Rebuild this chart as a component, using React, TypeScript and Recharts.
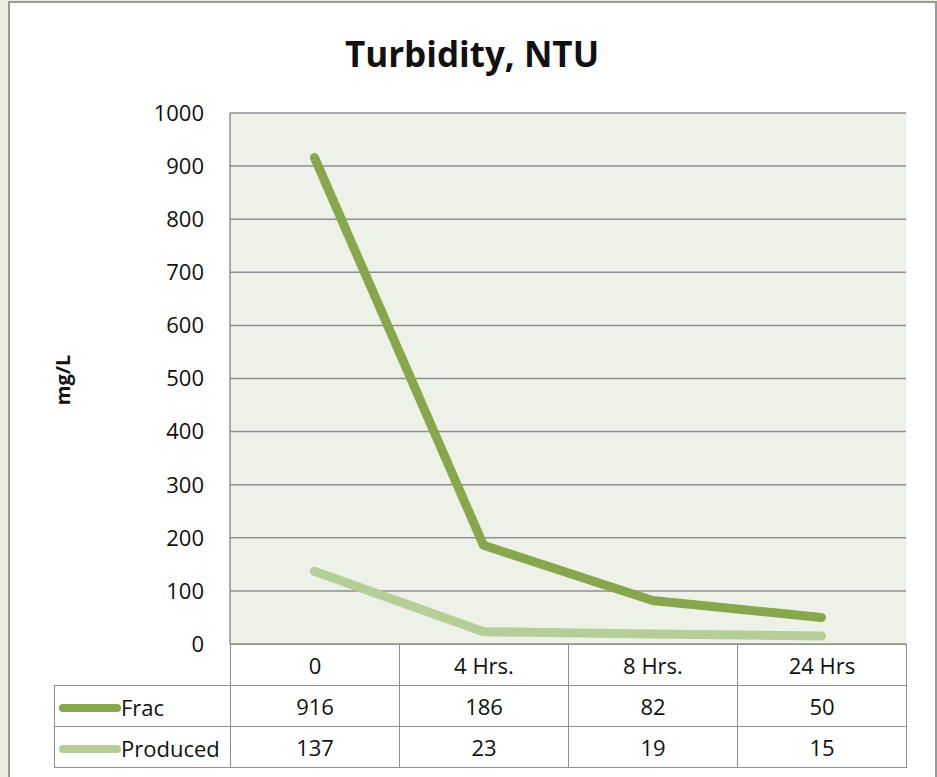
import { CartesianGrid, Line, LineChart, XAxis, YAxis } from "recharts";

const categories = ["0", "4 Hrs.", "8 Hrs.", "24 Hrs"];
const fracValues = [916, 186, 82, 50];
const producedValues = [137, 23, 19, 15];
const yTicks = [0, 100, 200, 300, 400, 500, 600, 700, 800, 900, 1000];

const series = [
  { key: "frac", name: "Frac", color: "#86A74B", values: fracValues },
  { key: "produced", name: "Produced", color: "#B5CD96", values: producedValues },
];

const FONT = "'Open Sans', sans-serif";
const GRID = "#8f8f8f";

// plot box in page pixels
const PLOT_LEFT = 230;
const PLOT_RIGHT = 906;
const PLOT_TOP = 113;
const PLOT_BOTTOM = 644;
const COL_W = (PLOT_RIGHT - PLOT_LEFT) / categories.length;

export default function App() {
  const rows = categories.map((c, i) => ({
    cat: c,
    frac: fracValues[i],
    produced: producedValues[i],
  }));

  const cell: React.CSSProperties = {
    border: `1.5px solid ${GRID}`,
    textAlign: "center",
    padding: 0,
    fontSize: 22,
    color: "#111",
  };

  return (
    <div
      style={{
        position: "fixed",
        left: 0,
        top: 0,
        width: 937,
        height: 777,
        background: "#EEEBE1",
        fontFamily: FONT,
        overflow: "hidden",
      }}
    >
      <div
        style={{
          position: "absolute",
          left: 8,
          top: 1,
          width: 925,
          height: 800,
          background: "#fff",
          border: "2px solid #9a9a9a",
        }}
      />
      <div
        style={{
          position: "absolute",
          left: 0,
          top: 30,
          width: 944,
          textAlign: "center",
          fontWeight: 700,
          fontSize: 35,
          color: "#111",
        }}
      >
        Turbidity, NTU
      </div>
      <div
        style={{
          position: "absolute",
          left: 62,
          top: 380,
          transform: "translate(-50%, -50%) rotate(-90deg)",
          fontWeight: 700,
          fontSize: 20,
          color: "#111",
          whiteSpace: "nowrap",
        }}
      >
        mg/L
      </div>

      <div style={{ position: "absolute", left: 0, top: 0 }}>
        <LineChart
          width={937}
          height={777}
          data={rows}
          margin={{ top: PLOT_TOP, right: 937 - PLOT_RIGHT, bottom: 777 - PLOT_BOTTOM, left: 0 }}
        >
          <CartesianGrid
            vertical={false}
            horizontal
            stroke={GRID}
            strokeWidth={1.5}
            fill="#EEF1E8"
            fillOpacity={1}
            horizontalValues={yTicks}
          />
          <XAxis
            dataKey="cat"
            hide
            padding={{ left: COL_W / 2, right: COL_W / 2 }}
          />
          <YAxis
            width={PLOT_LEFT}
            domain={[0, 1000]}
            ticks={yTicks}
            interval={0}
            tickSize={0}
            tickMargin={26}
            tick={{ fill: "#111", fontSize: 22, fontFamily: FONT }}
            axisLine={{ stroke: GRID, strokeWidth: 1.5 }}
            tickLine={false}
          />
          {series.map((s) => (
            <Line
              key={s.key}
              type="linear"
              dataKey={s.key}
              name={s.name}
              stroke={s.color}
              strokeWidth={9}
              strokeLinecap="round"
              strokeLinejoin="round"
              dot={false}
              activeDot={false}
              isAnimationActive={false}
            />
          ))}
        </LineChart>
      </div>

      <table
        style={{
          position: "absolute",
          left: 54,
          top: PLOT_BOTTOM,
          borderCollapse: "collapse",
          tableLayout: "fixed",
          fontFamily: FONT,
        }}
      >
        <colgroup>
          <col style={{ width: PLOT_LEFT - 54 }} />
          {categories.map((c) => (
            <col key={c} style={{ width: COL_W }} />
          ))}
        </colgroup>
        <tbody>
          <tr style={{ height: 41 }}>
            <td style={{ ...cell, border: "none", borderBottom: `1.5px solid ${GRID}` }} />
            {categories.map((c) => (
              <td key={c} style={cell}>
                {c}
              </td>
            ))}
          </tr>
          {series.map((s) => (
            <tr key={s.key} style={{ height: 41 }}>
              <td style={{ ...cell, textAlign: "left", whiteSpace: "nowrap" }}>
                <svg width={64} height={12} style={{ verticalAlign: "middle", marginLeft: 2 }}>
                  <line x1={6} y1={6} x2={60} y2={6} stroke={s.color} strokeWidth={8} strokeLinecap="round" />
                </svg>
                <span style={{ verticalAlign: "middle" }}>{s.name}</span>
              </td>
              {s.values.map((v, i) => (
                <td key={i} style={cell}>
                  {v}
                </td>
              ))}
            </tr>
          ))}
        </tbody>
      </table>
    </div>
  );
}
